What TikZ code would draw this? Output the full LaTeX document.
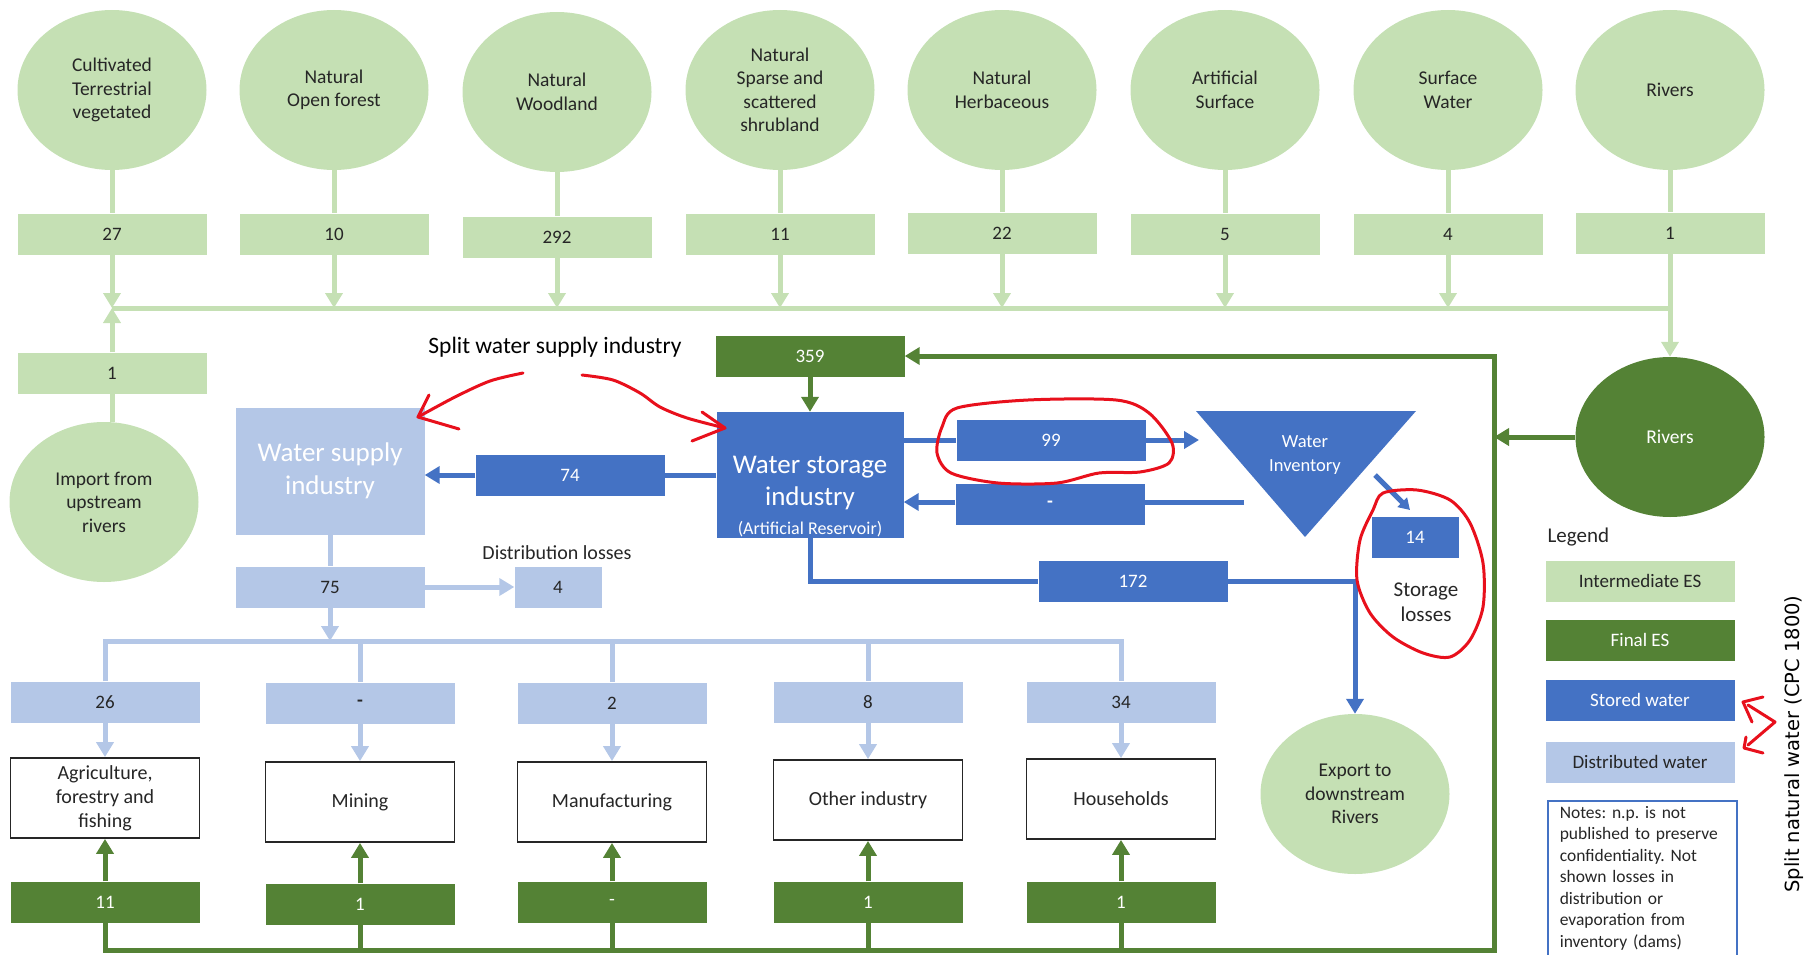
\documentclass[tikz,border=0pt]{standalone}
\usepackage{fontspec}
\setmainfont{Carlito}
\newfontfamily\dejavu{DejaVu Sans}
\usepackage{xcolor}
\usepackage{tikz}
\usetikzlibrary{arrows.meta,shapes.geometric}
\definecolor{lgreen}{HTML}{C5E0B4}
\definecolor{dgreen}{HTML}{548235}
\definecolor{sblue}{HTML}{4472C4}
\definecolor{dblue}{HTML}{B4C7E7}
\definecolor{ink}{HTML}{262626}
\definecolor{redpen}{HTML}{E8101C}
\newcommand{\fsz}[2]{\fontsize{#1pt}{#2pt}\selectfont}
\frenchspacing

\begin{document}
\begin{tikzpicture}[x=1pt,y=-1pt,
  eco/.style={ellipse,fill=lgreen,text=ink,minimum width=189pt,minimum height=160pt,inner sep=0pt,align=center,font=\fsz{19.5}{23.5}},
  ibox/.style={fill=lgreen,text=ink,minimum width=189pt,minimum height=41pt,inner sep=0pt,font=\fsz{19}{23}},
  fbox/.style={fill=dgreen,text=white,minimum width=189pt,minimum height=41pt,inner sep=0pt,font=\fsz{19}{23}},
  sbox/.style={fill=sblue,text=white,minimum width=189pt,minimum height=41pt,inner sep=0pt,font=\fsz{19}{23}},
  dbox/.style={fill=dblue,text=ink,minimum width=189pt,minimum height=41pt,inner sep=0pt,font=\fsz{19}{23}},
  sector/.style={draw=ink,line width=1.8pt,fill=white,text=ink,minimum width=189pt,minimum height=80pt,inner sep=0pt,align=center,font=\fsz{20}{24}},
  lgflow/.style={draw=lgreen,line width=5pt},
  fflow/.style={draw=dgreen,line width=5pt},
  sflow/.style={draw=sblue,line width=5pt},
  dflow/.style={draw=dblue,line width=5pt},
  arr/.style={-{Triangle[width=17pt,length=15pt]}},
  smallarr/.style={-{Triangle[width=13pt,length=11pt]}},
  pen/.style={draw=redpen,line width=3pt,line cap=round,line join=round}]
\useasboundingbox (0,0) rectangle (1806,955);

\node[eco] (cult) at (112,90) {Cultivated\\Terrestrial\\vegetated};
\node[eco] (open) at (334,90) {Natural\\Open forest};
\node[eco] (wood) at (557,92) {Natural\\Woodland};
\node[eco] (shrub) at (780,90) {Natural\\Sparse and\\scattered\\shrubland};
\node[eco] (herb) at (1002,90) {Natural\\Herbaceous};
\node[eco] (art) at (1225,90) {Artificial\\Surface};
\node[eco] (surf) at (1448,90) {Surface\\Water};
\node[eco] (riv) at (1670,90) {Rivers};

\node[ibox] (v27) at (112,234) {27};
\node[ibox] (v10) at (334,234) {10};
\node[ibox] (v292) at (557,237) {292};
\node[ibox] (v11) at (780,234) {11};
\node[ibox] (v22) at (1002,233) {22};
\node[ibox] (v5) at (1225,234) {5};
\node[ibox] (v4s) at (1448,234) {4};
\node[ibox] (v1riv) at (1670,233) {1};

\coordinate (busW) at (112,308);
\coordinate (busE) at (1670,308);
\draw[lgflow] (busW) -- (busE);
\draw[lgflow] (cult) -- (v27);
\draw[lgflow] (open) -- (v10);
\draw[lgflow] (wood) -- (v292);
\draw[lgflow] (shrub) -- (v11);
\draw[lgflow] (herb) -- (v22);
\draw[lgflow] (art) -- (v5);
\draw[lgflow] (surf) -- (v4s);
\draw[lgflow] (riv) -- (v1riv);
\draw[lgflow,arr] (v27) -- (v27 |- busW);
\draw[lgflow,arr] (v10) -- (v10 |- busW);
\draw[lgflow,arr] (v292) -- (v292 |- busW);
\draw[lgflow,arr] (v11) -- (v11 |- busW);
\draw[lgflow,arr] (v22) -- (v22 |- busW);
\draw[lgflow,arr] (v5) -- (v5 |- busW);
\draw[lgflow,arr] (v4s) -- (v4s |- busW);

\node[eco] (imp) at (104,502) {Import from\\upstream\\rivers};
\node[ibox] (v1imp) at (112,373) {1};
\draw[lgflow] (imp.north -| v1imp) -- (v1imp);
\draw[lgflow,arr] (v1imp) -- (v1imp |- busW);

\node[eco,fill=dgreen,text=white] (rivF) at (1670,437) {Rivers};
\draw[lgflow,arr] (v1riv) -- (rivF);

\node[fbox] (f359) at (810,356) {359};
\node[fill=sblue,minimum width=187pt,minimum height=126pt] (store) at (810,475) {};
\node[text=white,align=center,font=\fsz{27}{32}] (storetxt) at (810,497) {Water storage\\industry\\[-3pt]{\fsz{18}{22}(Artificial Reservoir)}};
\node[fill=dblue,text=white,minimum width=189pt,minimum height=127pt,align=center,font=\fsz{27}{33}] (sup) at (330,471) {Water supply\\industry};
\draw[fflow,arr] (f359) -- (store);

\node[sbox] (v74) at (570,475) {74};
\draw[sflow] (store.west |- v74) -- (v74);
\draw[sflow,arr] (v74) -- (sup.east |- v74);

\node[dbox] (v75) at (330,587) {75};
\node[dbox,minimum width=87pt] (v4) at (558,587) {4};
\node[text=ink,font=\fsz{20}{24}] (dloss) at (557,553) {Distribution losses};
\draw[dflow] (sup) -- (v75);
\draw[dflow,arr] (v75) -- (v4);

\coordinate (dbW) at (105,641);
\draw[dflow,arr] (v75) -- (v75 |- dbW);

\node[dbox] (d26) at (105,702) {26};
\node[dbox] (dmine) at (360,703) {\textbf{-}};
\node[dbox] (dmanu) at (612,703) {2};
\node[dbox] (doth) at (868,702) {8};
\node[dbox] (dhh) at (1121,702) {34};

\node[sector] (agri) at (105,798) {Agriculture,\\forestry and\\fishing};
\node[sector] (mine) at (360,802) {Mining};
\node[sector] (manu) at (612,802) {Manufacturing};
\node[sector] (oth) at (868,800) {Other industry};
\node[sector] (hh) at (1121,799) {Households};

\node[fbox] (f11) at (105,902) {11};
\node[fbox] (fmine) at (360,904) {1};
\node[fbox] (fmanu) at (612,902) {-};
\node[fbox] (foth) at (868,902) {1};
\node[fbox] (fhh) at (1121,902) {1};

\draw[dflow] (d26) -- (d26 |- dbW) -- (dhh |- dbW) -- (dhh);
\draw[dflow] (dmine |- dbW) -- (dmine);
\draw[dflow] (dmanu |- dbW) -- (dmanu);
\draw[dflow] (doth |- dbW) -- (doth);
\draw[dflow,arr] (d26) -- (agri);
\draw[dflow,arr] (dmine) -- (mine);
\draw[dflow,arr] (dmanu) -- (manu);
\draw[dflow,arr] (doth) -- (oth);
\draw[dflow,arr] (dhh) -- (hh);

\coordinate (gB) at (1494,950);
\draw[fflow,arr] (f11) -- (f11 |- gB) -- (gB) -- (gB |- f359) -- (f359);
\draw[fflow] (fmine |- gB) -- (fmine);
\draw[fflow] (fmanu |- gB) -- (fmanu);
\draw[fflow] (foth |- gB) -- (foth);
\draw[fflow] (fhh |- gB) -- (fhh);
\draw[fflow,arr] (f11) -- (agri);
\draw[fflow,arr] (fmine) -- (mine);
\draw[fflow,arr] (fmanu) -- (manu);
\draw[fflow,arr] (foth) -- (oth);
\draw[fflow,arr] (fhh) -- (hh);
\draw[fflow,arr] (rivF) -- (rivF -| gB);

\fill[sblue] (1196,411) -- (1416,411) -- (1305,537) -- cycle;
\node[text=white,align=center,font=\fsz{18.5}{24}] (inv) at (1305,455) {Water\\Inventory};
\coordinate (invIn) at (1199,440);
\coordinate (invOut) at (1244,502);
\coordinate (invLoss) at (1375,475);
\coordinate (lossTip) at (1410,510);
\node[sbox] (v99) at (1051,440) {99};
\node[sbox] (vret) at (1050,504) {\textbf{-}};
\node[sbox,minimum width=87pt] (v14) at (1415,537) {14};
\node[text=ink,align=center,font=\fsz{21}{25}] (sloss) at (1426,602) {Storage\\losses};
\draw[sflow] (store.east |- v99) -- (v99);
\draw[sflow,arr] (v99) -- (invIn);
\draw[sflow] (invOut) -- (vret.east |- invOut);
\draw[sflow,arr] (vret.west |- invOut) -- (store.east |- invOut);
\draw[sflow,smallarr] (invLoss) -- (lossTip);

\node[sbox] (v172) at (1133,581) {172};
\node[eco] (exp) at (1355,794) {Export to\\downstream\\Rivers};
\draw[sflow] (store) -- (store |- v172) -- (v172);
\draw[sflow,arr] (v172) -- (v172 -| exp) -- (exp);

\node[text=ink,font=\fsz{21}{25},anchor=west] (leg) at (1544,537) {Legend};
\node[ibox] (keyI) at (1640,581) {Intermediate ES};
\node[fbox] (keyF) at (1640,640) {Final ES};
\node[sbox] (keyS) at (1640,700) {Stored water};
\node[dbox] (keyD) at (1640,762) {Distributed water};
\node[draw=sblue,line width=1.5pt,anchor=north west,minimum width=189pt,minimum height=155pt,text width=165pt,inner xsep=12pt,align=left,text=ink,font=\fsz{17.5}{21.5}] (notes) at (1547,800) {Notes: n.p. is not\\published to preserve\\confidentiality. Not\\shown losses in\\distribution or\\evaporation from\\inventory (dams)};
\node[rotate=90,text=black,font=\dejavu\fsz{19.5}{23}] (splitnw) at (1794,744) {Split natural water (CPC 1800)};

\node[text=black,font=\fsz{23.5}{27}] (splitws) at (555,347) {Split water supply industry};
\draw[pen] plot[smooth] coordinates {(523,373) (490,381) (455,397) (418,417)};
\draw[pen] (429,395) -- (418,417) -- (459,429);
\draw[pen] plot[smooth] coordinates {(582,375) (613,380) (640,393) (660,407) (687,418) (725,428)};
\draw[pen] (702,412) -- (725,428) -- (692,441);
\draw[pen] plot[smooth cycle] coordinates {(957,408) (1028,400) (1116,400) (1149,413) (1172,443) (1169,463) (1140,472) (1099,473) (1057,483) (998,483) (951,473) (937,453) (942,427)};
\draw[pen] plot[smooth cycle] coordinates {(1383,493) (1417,490) (1450,500) (1470,523) (1483,563) (1483,607) (1470,640) (1450,657) (1423,653) (1393,637) (1370,613) (1357,580) (1360,540) (1373,510)};
\draw[pen] (1748,705) -- (1775,722) -- (1748,745);
\draw[pen] (1763,697) -- (1743,702) -- (1752,722);
\draw[pen] (1746,737) -- (1744,748) -- (1763,753);
\end{tikzpicture}
\end{document}
